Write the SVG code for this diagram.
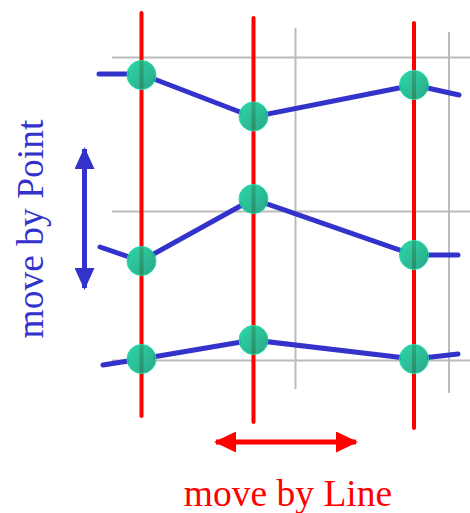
<svg xmlns="http://www.w3.org/2000/svg" width="470" height="513" viewBox="0 0 470 513">
<style>
.grid{stroke:#bbbbbb;stroke-width:2;fill:none}
.red{stroke:#ff0000;stroke-width:4;stroke-linecap:round;fill:none}
.blue{stroke:#3333cc;stroke-width:5;stroke-linecap:round;stroke-linejoin:round;fill:none}
.pt{fill:url(#g);fill-opacity:0.86;stroke:#22ddaa;stroke-width:1}
.lbl{font-family:"Liberation Serif","Times New Roman",serif;font-size:37.5px}
</style>
<defs>
<linearGradient id="g" x1="0" y1="0" x2="1" y2="1">
<stop offset="0" stop-color="#0cd09a"/>
<stop offset="1" stop-color="#089874"/>
</linearGradient>
<mask id="holes" maskUnits="userSpaceOnUse" x="0" y="0" width="470" height="513">
<rect x="0" y="0" width="470" height="513" fill="#fff"/>
<g fill="#000">
<circle cx="141.5" cy="75" r="13"/>
<circle cx="253.5" cy="116.5" r="13"/>
<circle cx="414" cy="85" r="13"/>
<circle cx="141.5" cy="261" r="13"/>
<circle cx="253.5" cy="199" r="13"/>
<circle cx="414" cy="255" r="13"/>
<circle cx="141.5" cy="359" r="13"/>
<circle cx="253.5" cy="340" r="13"/>
<circle cx="414" cy="359" r="13"/>
</g>
</mask>
<marker id="ab" viewBox="0 0 22 20" refX="20" refY="10" markerWidth="22" markerHeight="20" markerUnits="userSpaceOnUse" orient="auto-start-reverse">
<path d="M0,0 L22,10 L0,20 Z" fill="#3333cc"/>
</marker>
<marker id="ar" viewBox="0 0 22 21" refX="20" refY="10.5" markerWidth="22" markerHeight="21" markerUnits="userSpaceOnUse" orient="auto-start-reverse">
<path d="M0,0 L22,10.5 L0,21 Z" fill="#ff0000"/>
</marker>
</defs>
<g id="grid" mask="url(#holes)">
<line class="grid" x1="112" y1="57.5" x2="470" y2="57.5"/>
<line class="grid" x1="112" y1="211.5" x2="470" y2="211.5"/>
<line class="grid" x1="112" y1="360.5" x2="470" y2="360.5"/>
<line class="grid" x1="295.5" y1="28" x2="295.5" y2="389"/>
<line class="grid" x1="449" y1="32" x2="449" y2="393"/>
</g>
<g id="redlines">
<line class="red" x1="141.5" y1="13" x2="141.5" y2="416"/>
<line class="red" x1="253.5" y1="18" x2="253.5" y2="422"/>
<line class="red" x1="414" y1="23" x2="414" y2="428"/>
</g>
<g id="connectors" mask="url(#holes)">
<polyline class="blue" points="99,74 141,74 253,117 414,85 459,95"/>
<polyline class="blue" points="100,247 141,261 253,199 414,255 458,255"/>
<polyline class="blue" points="103,365 141,359 253,340 414,359 458,354"/>
</g>
<g id="points">
<circle class="pt" cx="141.5" cy="75" r="14.5"/>
<circle class="pt" cx="253.5" cy="116.5" r="14.5"/>
<circle class="pt" cx="414" cy="85" r="14.5"/>
<circle class="pt" cx="141.5" cy="261" r="14.5"/>
<circle class="pt" cx="253.5" cy="199" r="14.5"/>
<circle class="pt" cx="414" cy="255" r="14.5"/>
<circle class="pt" cx="141.5" cy="359" r="14.5"/>
<circle class="pt" cx="253.5" cy="340" r="14.5"/>
<circle class="pt" cx="414" cy="359" r="14.5"/>
</g>
<g id="arrow-point">
<line x1="84.5" y1="149" x2="84.5" y2="288" stroke="#3333cc" stroke-width="5" marker-start="url(#ab)" marker-end="url(#ab)"/>
<text class="lbl" fill="#3333cc" text-anchor="middle" transform="translate(42.5,229) rotate(-90)">move by Point</text>
</g>
<g id="arrow-line">
<line x1="216" y1="442" x2="356" y2="442" stroke="#ff0000" stroke-width="5" marker-start="url(#ar)" marker-end="url(#ar)"/>
<text class="lbl" fill="#ff0000" text-anchor="middle" x="288" y="506">move by Line</text>
</g>
</svg>
